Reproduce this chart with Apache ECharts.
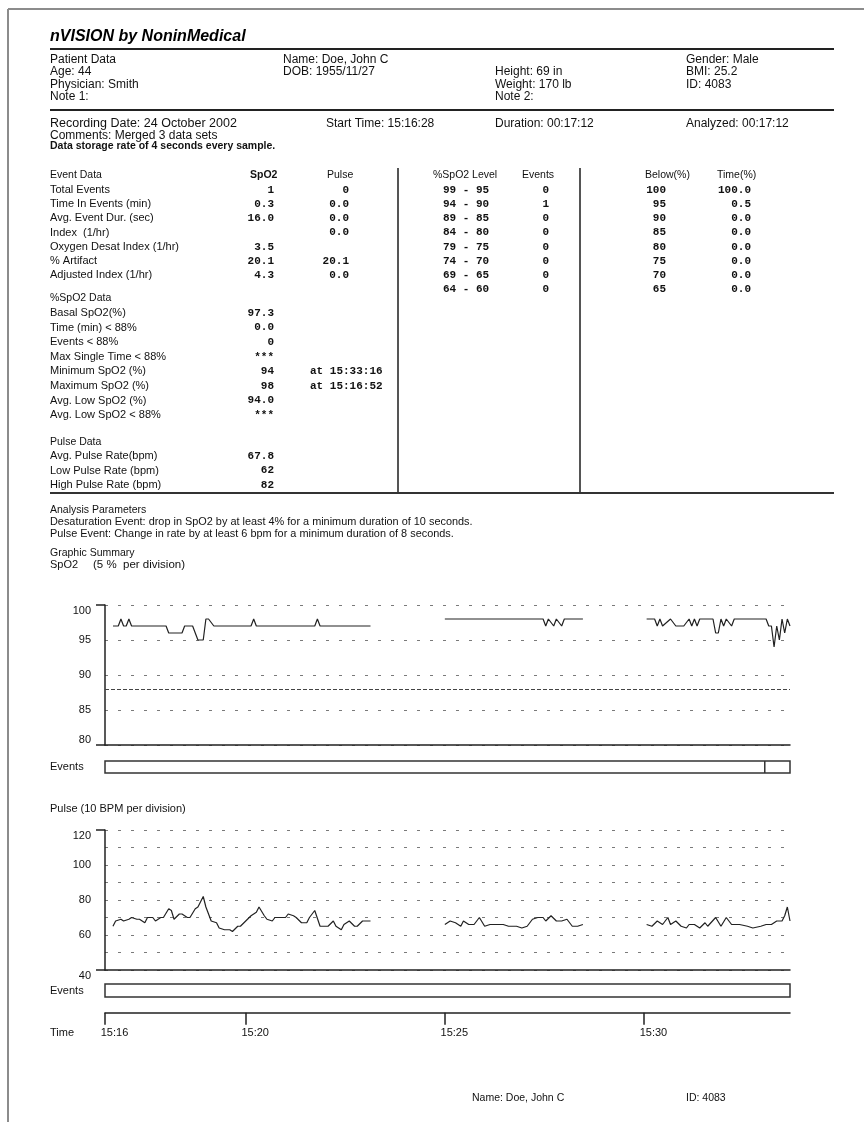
<!DOCTYPE html>
<html>
<head>
<meta charset="utf-8">
<title>nVISION report</title>
<script src="https://cdn.jsdelivr.net/npm/echarts@6/dist/echarts.min.js"></script>
<style>
  html, body { margin: 0; padding: 0; background: #fff; }
  #report { width: 864px; height: 1122px; }
</style>
</head>
<body>
<div id="report"></div>
<script>
// ---------- data ----------
var startClock = [15, 16, 28];          // 15:16:28
var durationSec = 1032;                 // 00:17:12
var timeTicks = [0, 212, 512, 812];     // seconds after start
var timeTickLabels = ['15:16', '15:20', '15:25', '15:30'];

var spo2Ticks = [80, 85, 90, 95, 100];
var pulseTicks = [40, 60, 80, 100, 120];
var spo2Threshold = 88;

// [seconds after start, value]
var spo2Seg1 = [[12, 97], [20, 97], [24, 98], [28, 97], [32, 97], [36, 98], [40, 97], [92, 97], [96, 96], [116, 96],
  [120, 97], [132, 97], [140, 95], [148, 95], [152, 98], [156, 98], [164, 97], [220, 97], [224, 98], [228, 97],
  [316, 97], [320, 98], [324, 97], [400, 97]];
var spo2Seg2 = [[512, 98], [660, 98], [664, 97], [668, 98], [676, 97], [680, 98], [688, 97], [692, 98], [720, 98]];
var spo2Seg3 = [[816, 98], [828, 98], [832, 97], [836, 98], [840, 97], [852, 98], [860, 97], [872, 97], [880, 98],
  [884, 97], [888, 98], [892, 97], [896, 98], [916, 98], [920, 96], [924, 96], [928, 98], [932, 97], [936, 98],
  [944, 97], [948, 98], [996, 98], [1000, 97], [1004, 97], [1008, 94], [1012, 97], [1016, 95], [1020, 98],
  [1024, 96], [1028, 98], [1032, 97]];

var pulseSeg1 = [[12, 65], [16, 68], [24, 69], [28, 68], [36, 69], [40, 70], [48, 69], [52, 69], [60, 67], [64, 70],
  [72, 70], [76, 68], [84, 70], [88, 70], [96, 75], [100, 74], [104, 69], [112, 72], [116, 72], [124, 70], [128, 70],
  [136, 75], [140, 76], [148, 82], [152, 76], [160, 68], [168, 67], [172, 64], [180, 63], [188, 63], [192, 62],
  [200, 65], [204, 65], [212, 68], [220, 71], [228, 73], [232, 76], [240, 71], [244, 69], [252, 68], [256, 70],
  [264, 70], [272, 70], [276, 72], [284, 71], [288, 70], [296, 67], [304, 67], [308, 70], [316, 74], [324, 65],
  [328, 65], [336, 65], [344, 68], [348, 65], [356, 63], [360, 66], [368, 68], [376, 65], [380, 65], [388, 68],
  [400, 68]];
var pulseSeg2 = [[512, 66], [520, 68], [528, 67], [536, 65], [540, 68], [548, 66], [556, 66], [564, 70], [572, 65],
  [580, 66], [588, 66], [600, 66], [608, 65], [620, 65], [628, 64], [636, 65], [644, 69], [652, 70], [660, 70],
  [664, 68], [672, 71], [680, 68], [688, 68], [696, 69], [704, 65], [712, 65], [720, 66]];
var pulseSeg3 = [[816, 66], [824, 65], [832, 68], [840, 66], [848, 70], [852, 66], [860, 68], [868, 65], [876, 64],
  [880, 66], [888, 66], [896, 64], [904, 67], [908, 65], [920, 70], [928, 65], [936, 70], [944, 66], [948, 66],
  [956, 66], [968, 65], [976, 64], [988, 65], [996, 66], [1004, 66], [1012, 68], [1020, 68], [1024, 71],
  [1028, 76], [1032, 68]];

var spo2EventStarts = [994];
var pulseEventStarts = [];

// table text
var eventLabels = ['Total Events', 'Time In Events (min)', 'Avg. Event Dur. (sec)', 'Index  (1/hr)',
  'Oxygen Desat Index (1/hr)', '% Artifact', 'Adjusted Index (1/hr)'];
var eventSpo2 = ['1', '0.3', '16.0', '', '3.5', '20.1', '4.3'];
var eventPulse = ['0', '0.0', '0.0', '0.0', '', '20.1', '0.0'];

var spo2Labels = ['Basal SpO2(%)', 'Time (min) < 88%', 'Events < 88%', 'Max Single Time < 88%',
  'Minimum SpO2 (%)', 'Maximum SpO2 (%)', 'Avg. Low SpO2 (%)', 'Avg. Low SpO2 < 88%'];
var spo2Values = ['97.3', '0.0', '0', '***', '94', '98', '94.0', '***'];
var spo2At = ['', '', '', '', 'at 15:33:16', 'at 15:16:52', '', ''];

var pulseLabels = ['Avg. Pulse Rate(bpm)', 'Low Pulse Rate (bpm)', 'High Pulse Rate (bpm)'];
var pulseValues = ['67.8', '62', '82'];

var levelRanges = ['99 - 95', '94 - 90', '89 - 85', '84 - 80', '79 - 75', '74 - 70', '69 - 65', '64 - 60'];
var levelEvents = ['0', '1', '0', '0', '0', '0', '0', '0'];
var belowLevels = ['100', '95', '90', '85', '80', '75', '70', '65'];
var belowTime = ['100.0', '0.5', '0.0', '0.0', '0.0', '0.0', '0.0', '0.0'];

// ---------- helpers ----------
var SANS = 'Liberation Sans';
var MONO = 'Liberation Mono';

function txt(x, y, s, o) {
  o = o || {};
  var al = o.align || 'left';
  return {
    type: 'text', x: x, y: y, silent: true,
    style: {
      text: s,
      fill: o.fill || '#111',
      fontSize: o.size || 11,
      fontFamily: o.family || SANS,
      fontWeight: o.weight || 'normal',
      fontStyle: o.italic ? 'italic' : 'normal',
      textAlign: al, align: al,
      textVerticalAlign: 'middle', verticalAlign: 'middle'
    }
  };
}
function rule(x1, y1, x2, y2, color, w) {
  return {
    type: 'line', silent: true,
    shape: { x1: x1, y1: y1, x2: x2, y2: y2 },
    style: { stroke: color || '#222', lineWidth: w || 2 }
  };
}
function gap(seg) { return seg.concat([[seg[seg.length - 1][0] + 2, null]]); }
function clock(sec) {
  var t = startClock[0] * 3600 + startClock[1] * 60 + startClock[2] + sec;
  var h = Math.floor(t / 3600), m = Math.floor((t % 3600) / 60);
  return h + ':' + (m < 10 ? '0' : '') + m;
}

// ---------- page text ----------
var g = [];
g.push(rule(8, 9, 864, 9, '#8c8c8c', 2));
g.push(rule(8, 9, 8, 1122, '#8c8c8c', 2));

g.push(txt(50, 37, 'nVISION by NoninMedical', { size: 16, weight: 'bold', italic: true, fill: '#000' }));
g.push(rule(50, 49, 834, 49, '#222', 2));

var HS = 12;
g.push(txt(50, 60, 'Patient Data', { size: HS }));
g.push(txt(50, 72, 'Age: 44', { size: HS }));
g.push(txt(50, 85, 'Physician: Smith', { size: HS }));
g.push(txt(50, 97, 'Note 1:', { size: HS }));
g.push(txt(283, 60, 'Name: Doe, John C', { size: HS }));
g.push(txt(283, 72, 'DOB: 1955/11/27', { size: HS }));
g.push(txt(495, 72, 'Height: 69 in', { size: HS }));
g.push(txt(495, 85, 'Weight: 170 lb', { size: HS }));
g.push(txt(495, 97, 'Note 2:', { size: HS }));
g.push(txt(686, 60, 'Gender: Male', { size: HS }));
g.push(txt(686, 72, 'BMI: 25.2', { size: HS }));
g.push(txt(686, 85, 'ID: 4083', { size: HS }));
g.push(rule(50, 110, 834, 110, '#222', 2));

g.push(txt(50, 124, 'Recording Date: 24 October 2002', { size: 12.5 }));
g.push(txt(326, 124, 'Start Time: 15:16:28', { size: HS }));
g.push(txt(495, 124, 'Duration: 00:17:12', { size: HS }));
g.push(txt(686, 124, 'Analyzed: 00:17:12', { size: HS }));
g.push(txt(50, 136, 'Comments: Merged 3 data sets', { size: HS }));
g.push(txt(50, 146, 'Data storage rate of 4 seconds every sample.', { size: 10.5, weight: 'bold' }));

// table
var TH = 10.5, TL = 11, NUM = { size: 11, family: MONO, weight: 'bold', align: 'right' };
g.push(txt(50, 175, 'Event Data', { size: TH }));
g.push(txt(250, 175, 'SpO2', { size: TH, weight: 'bold' }));
g.push(txt(327, 175, 'Pulse', { size: TH }));
g.push(txt(433, 175, '%SpO2 Level', { size: TH }));
g.push(txt(522, 175, 'Events', { size: TH }));
g.push(txt(645, 175, 'Below(%)', { size: TH }));
g.push(txt(717, 175, 'Time(%)', { size: TH }));

eventLabels.forEach(function (s, i) {
  var y = 190 + i * 14.2;
  g.push(txt(50, y, s, { size: TL }));
  if (eventSpo2[i]) g.push(txt(274, y, eventSpo2[i], NUM));
  if (eventPulse[i]) g.push(txt(349, y, eventPulse[i], NUM));
});
g.push(txt(50, 298, '%SpO2 Data', { size: TH }));
spo2Labels.forEach(function (s, i) {
  var y = 313 + i * 14.6;
  g.push(txt(50, y, s, { size: TL }));
  g.push(txt(274, y, spo2Values[i], NUM));
  if (spo2At[i]) g.push(txt(310, y, spo2At[i], { size: 11, family: MONO, weight: 'bold' }));
});
g.push(txt(50, 442, 'Pulse Data', { size: TH }));
pulseLabels.forEach(function (s, i) {
  var y = 456 + i * 14.5;
  g.push(txt(50, y, s, { size: TL }));
  g.push(txt(274, y, pulseValues[i], NUM));
});
levelRanges.forEach(function (s, i) {
  var y = 190 + i * 14.2;
  g.push(txt(443, y, s, { size: 11, family: MONO, weight: 'bold' }));
  g.push(txt(549, y, levelEvents[i], NUM));
  g.push(txt(666, y, belowLevels[i], NUM));
  g.push(txt(751, y, belowTime[i], NUM));
});
g.push(rule(398, 168, 398, 493, '#555', 2));
g.push(rule(580, 168, 580, 493, '#555', 2));
g.push(rule(50, 493, 834, 493, '#333', 2));

g.push(txt(50, 510, 'Analysis Parameters', { size: TH }));
g.push(txt(50, 522, 'Desaturation Event: drop in SpO2 by at least 4% for a minimum duration of 10 seconds.', { size: 10.9 }));
g.push(txt(50, 534, 'Pulse Event: Change in rate by at least 6 bpm for a minimum duration of 8 seconds.', { size: 10.9 }));
g.push(txt(50, 553, 'Graphic Summary', { size: TH }));
g.push(txt(50, 565, 'SpO2', { size: TL }));
g.push(txt(93, 565, '(5 %  per division)', { size: 11.5 }));
g.push(txt(50, 767, 'Events', { size: TL }));
g.push(txt(50, 809, 'Pulse (10 BPM per division)', { size: TL }));
g.push(txt(50, 991, 'Events', { size: TL }));
g.push(txt(50, 1033, 'Time', { size: TL }));
g.push(txt(472, 1098, 'Name: Doe, John C', { size: 10.5 }));
g.push(txt(686, 1098, 'ID: 4083', { size: 10.5 }));

// ---------- charts ----------
var axisDark = { color: '#222', width: 1.5 };
var dotted = { color: '#7a7a7a', width: 1, type: [3, 10] };
var L = 105, W = 685;

function hiddenAxis(i, max) {
  return { type: 'value', gridIndex: i, min: 0, max: max, show: false };
}
// second y axis on a plot: only the short end ticks that stick out left of the axis
function endTicks(i, min, max) {
  return { type: 'value', gridIndex: i, min: min, max: max, position: 'left',
    axisLine: { show: false }, axisLabel: { show: false }, splitLine: { show: false },
    axisTick: { show: true, customValues: [min, max], length: 9, lineStyle: axisDark } };
}
function eventRender(params, api) {
  var a = api.coord([api.value(0), 0]);
  var b = api.coord([api.value(0), 1]);
  return { type: 'line', shape: { x1: a[0], y1: a[1], x2: b[0], y2: b[1] }, style: { stroke: '#333', lineWidth: 1.5 } };
}

var chart = echarts.init(document.getElementById('report'), null, { renderer: 'canvas' });
chart.setOption({
  animation: false,
  backgroundColor: '#fff',
  textStyle: { fontFamily: SANS },
  graphic: { elements: g },
  grid: [
    { left: L, width: W, top: 605, height: 140 },
    { left: L, width: W, top: 761, height: 12, show: true, borderColor: '#333', borderWidth: 1.5, backgroundColor: 'transparent' },
    { left: L, width: W, top: 830, height: 140 },
    { left: L, width: W, top: 984, height: 13, show: true, borderColor: '#333', borderWidth: 1.5, backgroundColor: 'transparent' },
    { left: L, width: W, top: 1000, height: 12.7 }
  ],
  xAxis: [
    { type: 'value', gridIndex: 0, min: 0, max: durationSec, axisLine: { show: true, lineStyle: axisDark },
      axisTick: { show: false }, axisLabel: { show: false }, splitLine: { show: false } },
    hiddenAxis(1, durationSec),
    { type: 'value', gridIndex: 2, min: 0, max: durationSec, axisLine: { show: true, lineStyle: axisDark },
      axisTick: { show: false }, axisLabel: { show: false }, splitLine: { show: false } },
    hiddenAxis(3, durationSec),
    { type: 'value', gridIndex: 4, min: 0, max: durationSec, axisLine: { show: true, lineStyle: axisDark },
      axisTick: { show: true, customValues: timeTicks, length: 12, lineStyle: axisDark },
      axisLabel: { show: true, customValues: timeTicks, margin: 15, align: 'center', padding: [0, 0, 0, 19],
        fontSize: 11, color: '#111',
        formatter: function (v) { var k = timeTicks.indexOf(v); return k >= 0 ? timeTickLabels[k] : clock(v); } },
      splitLine: { show: false } }
  ],
  yAxis: [
    { type: 'value', gridIndex: 0, min: spo2Ticks[0], max: spo2Ticks[spo2Ticks.length - 1], interval: 5,
      axisLine: { show: true, lineStyle: axisDark },
      axisTick: { show: false },
      axisLabel: { fontSize: 11, color: '#111', margin: 14, verticalAlignMinLabel: 'bottom', verticalAlignMaxLabel: 'top' },
      splitLine: { show: true, lineStyle: dotted } },
    hiddenAxis(1, 1),
    { type: 'value', gridIndex: 2, min: pulseTicks[0], max: pulseTicks[pulseTicks.length - 1], interval: 10,
      axisLine: { show: true, lineStyle: axisDark },
      axisTick: { show: false },
      axisLabel: { fontSize: 11, color: '#111', margin: 14, verticalAlignMinLabel: 'top', verticalAlignMaxLabel: 'top',
        formatter: function (v) { return pulseTicks.indexOf(v) >= 0 ? String(v) : ''; } },
      splitLine: { show: true, lineStyle: dotted } },
    hiddenAxis(3, 1),
    hiddenAxis(4, 1),
    endTicks(0, spo2Ticks[0], spo2Ticks[spo2Ticks.length - 1]),
    endTicks(2, pulseTicks[0], pulseTicks[pulseTicks.length - 1])
  ],
  series: [
    { name: 'SpO2', type: 'line', xAxisIndex: 0, yAxisIndex: 0, showSymbol: false, connectNulls: false,
      lineStyle: { color: '#222', width: 1.2 },
      data: gap(spo2Seg1).concat(gap(spo2Seg2), spo2Seg3),
      markLine: { silent: true, symbol: ['none', 'none'], label: { show: false },
        lineStyle: { color: '#444', width: 1, type: [4, 2] }, data: [{ yAxis: spo2Threshold }] } },
    { name: 'SpO2 events', type: 'custom', xAxisIndex: 1, yAxisIndex: 1, renderItem: eventRender,
      encode: { x: 0 }, data: spo2EventStarts.map(function (s) { return [s]; }) },
    { name: 'Pulse', type: 'line', xAxisIndex: 2, yAxisIndex: 2, showSymbol: false, connectNulls: false,
      lineStyle: { color: '#222', width: 1.2 },
      data: gap(pulseSeg1).concat(gap(pulseSeg2), pulseSeg3) },
    { name: 'Pulse events', type: 'custom', xAxisIndex: 3, yAxisIndex: 3, renderItem: eventRender,
      encode: { x: 0 }, data: pulseEventStarts.map(function (s) { return [s]; }) }
  ]
});
</script>
</body>
</html>
